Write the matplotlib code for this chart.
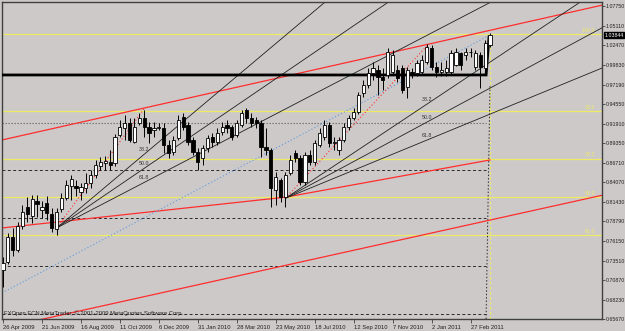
import matplotlib
matplotlib.use("Agg")
import matplotlib.pyplot as plt
import pandas as pd

plt.rcParams["font.family"] = ["Liberation Sans", "DejaVu Sans"]

# AUDUSD weekly candles, 26 Apr 2009 .. 27 Mar 2011
opens = [0.7226, 0.7334, 0.7670, 0.7496, 0.7817, 0.8073, 0.7952, 0.8154, 0.8033, 0.8127,
         0.7979, 0.7777, 0.8046, 0.8194, 0.8356, 0.8356, 0.8275, 0.8329, 0.8396, 0.8503,
         0.8624, 0.8665, 0.8678, 0.8665, 0.9041, 0.9135, 0.9202, 0.8947, 0.9202, 0.9270,
         0.9149, 0.9108, 0.9135, 0.9135, 0.8907, 0.8813, 0.9001, 0.9283, 0.9175, 0.8974,
         0.8813, 0.8732, 0.8866, 0.9014, 0.8947, 0.9081, 0.9175, 0.9149, 0.9041, 0.9175,
         0.9377, 0.9270, 0.9243, 0.9202, 0.8880, 0.8839, 0.8302, 0.8436, 0.8208, 0.8530,
         0.8799, 0.8732, 0.8409, 0.8772, 0.8678, 0.8907, 0.9014, 0.9175, 0.8934, 0.8839,
         0.8974, 0.9149, 0.9270, 0.9350, 0.9606, 0.9713, 0.9875, 0.9915, 0.9821, 0.9848,
         0.9888, 0.9915, 0.9942, 0.9686, 0.9888, 0.9875, 0.9888, 1.0022, 1.0211, 0.9955,
         0.9888, 0.9888, 0.9888, 0.9982, 1.0143, 1.0117, 1.0157, 0.9955, 1.0117, 0.9942,
         1.0251]
highs = [0.7401, 0.7724, 0.7791, 0.7871, 0.8100, 0.8207, 0.8234, 0.8234, 0.8154, 0.8221,
         0.8060, 0.8060, 0.8261, 0.8436, 0.8503, 0.8436, 0.8396, 0.8530, 0.8571, 0.8705,
         0.8745, 0.8759, 0.8839, 0.9054, 0.9243, 0.9310, 0.9270, 0.9270, 0.9337, 0.9377,
         0.9216, 0.9216, 0.9202, 0.9202, 0.8974, 0.9028, 0.9310, 0.9337, 0.9216, 0.9014,
         0.8866, 0.8907, 0.9041, 0.9068, 0.9135, 0.9216, 0.9243, 0.9175, 0.9243, 0.9377,
         0.9404, 0.9337, 0.9283, 0.9243, 0.9135, 0.8866, 0.8544, 0.8463, 0.8544, 0.8772,
         0.8839, 0.8772, 0.8813, 0.8839, 0.8974, 0.9135, 0.9243, 0.9216, 0.9014, 0.9014,
         0.9202, 0.9310, 0.9404, 0.9619, 0.9781, 0.9942, 1.0022, 0.9982, 0.9942, 1.0211,
         1.0184, 0.9982, 0.9982, 0.9955, 0.9942, 1.0049, 1.0117, 1.0264, 1.0251, 1.0022,
         1.0022, 1.0049, 1.0184, 1.0211, 1.0157, 1.0211, 1.0211, 1.0184, 1.0157, 1.0318,
         1.0412]
lows = [0.6998, 0.7307, 0.7414, 0.7469, 0.7777, 0.7871, 0.7858, 0.7939, 0.7925, 0.7898,
        0.7737, 0.7697, 0.8006, 0.8167, 0.8167, 0.8221, 0.8167, 0.8261, 0.8329, 0.8463,
        0.8571, 0.8571, 0.8571, 0.8624, 0.9014, 0.8974, 0.8947, 0.8934, 0.9175, 0.9014,
        0.8934, 0.9014, 0.9108, 0.8799, 0.8732, 0.8772, 0.8974, 0.9108, 0.8907, 0.8772,
        0.8571, 0.8638, 0.8813, 0.8880, 0.8907, 0.9041, 0.9068, 0.8974, 0.9014, 0.9149,
        0.9202, 0.9149, 0.9135, 0.8745, 0.8772, 0.8073, 0.8100, 0.8140, 0.8073, 0.8503,
        0.8678, 0.8369, 0.8369, 0.8638, 0.8638, 0.8880, 0.8974, 0.8880, 0.8839, 0.8772,
        0.8947, 0.9108, 0.9243, 0.9323, 0.9552, 0.9673, 0.9781, 0.9579, 0.9646, 0.9807,
        0.9848, 0.9754, 0.9606, 0.9538, 0.9807, 0.9834, 0.9861, 0.9996, 0.9915, 0.9821,
        0.9834, 0.9834, 0.9861, 0.9969, 0.9915, 1.0049, 1.0090, 0.9915, 0.9673, 0.9915,
        1.0224]
closes = [0.7320, 0.7670, 0.7496, 0.7817, 0.8006, 0.7979, 0.8181, 0.8113, 0.8073, 0.7992,
          0.7791, 0.8006, 0.8194, 0.8369, 0.8449, 0.8329, 0.8342, 0.8396, 0.8503, 0.8638,
          0.8678, 0.8692, 0.8638, 0.9014, 0.9149, 0.9202, 0.8974, 0.9149, 0.9270, 0.9149,
          0.9068, 0.9135, 0.9149, 0.8907, 0.8799, 0.8974, 0.9243, 0.9149, 0.8947, 0.8813,
          0.8678, 0.8866, 0.9001, 0.8947, 0.9068, 0.9149, 0.9135, 0.9014, 0.9202, 0.9337,
          0.9270, 0.9202, 0.9202, 0.8880, 0.8839, 0.8329, 0.8476, 0.8208, 0.8503, 0.8705,
          0.8732, 0.8409, 0.8772, 0.8678, 0.8934, 0.9068, 0.9175, 0.8934, 0.8947, 0.8974,
          0.9149, 0.9270, 0.9350, 0.9579, 0.9713, 0.9875, 0.9942, 0.9821, 0.9781, 1.0157,
          1.0117, 0.9807, 0.9646, 0.9915, 0.9848, 1.0009, 1.0049, 1.0224, 0.9955, 0.9888,
          0.9915, 0.9942, 1.0143, 1.0157, 0.9982, 1.0157, 1.0160, 1.0143, 0.9955, 1.0278,
          1.0384]

start_date = "2009-04-26"
label_every = 8

y_ticks = [1.0775, 1.0511, 1.0247, 0.9983, 0.9719, 0.9455, 0.9191, 0.8935, 0.8671,
           0.8407, 0.8143, 0.7879, 0.7615, 0.7351, 0.7087, 0.6823, 0.6567]
last_price = 1.03844

# yellow fibo retracement
fib_high = 1.0399
fib_low = 0.6016
fib_levels = [0.0, 23.6, 38.2, 50.0, 61.8]
fib_texts = ["100.0", "23.6", "38.2", "50.0", "61.8"]
fib_bar = 100

# fibo fans: (bar, price) of low and high anchors
fan1 = [(11, 0.7790), (29, 0.9395)]
fan2 = [(58, 0.8190), (87, 1.0235)]
fan_levels = [38.2, 50.0, 61.8]

# trend lines as (bar, price) points
red_top = [(0, 0.8977), (100, 1.0448)]
red_low = [(20, 0.6737), (100, 0.7897)]
red_mid = [(-0.2, 0.7791), (58, 0.8205), (100, 0.8705)]
blue_dots = [(-0.2, 0.6917), (100, 1.0385)]
support = [(-0.2, 0.9848), (99.2, 0.9848), (99.8, 1.0358)]
grid_levels = [0.9206, 0.8564, 0.7921, 0.7279, 0.6636]
grid_end = 99.2

XMIN, XMAX = -0.2, 123.0
YMIN, YMAX = 0.6567, 1.0829
BG = "#cdc9c9"
YELLOW = "#eeea66"
RED = "#ff2d2d"
FS = 3.8


def extend(p1, p2, x0, x1):
    k = (p2[1] - p1[1]) / (p2[0] - p1[0])
    return [x0, x1], [p1[1] + k * (x0 - p1[0]), p1[1] + k * (x1 - p1[0])]


fig = plt.figure(figsize=(6.25, 3.31), dpi=100, facecolor=BG)
ax = fig.add_axes([2 / 625, 12 / 331, 600 / 625, 317 / 331], facecolor=BG)

# yellow fibo
for lvl, txt in zip(fib_levels, fib_texts):
    p = fib_high - lvl / 100 * (fib_high - fib_low)
    ax.axhline(p, color=YELLOW, lw=0.9, zorder=1)
    ax.text(121.6, p + 0.0015, txt, color=YELLOW, fontsize=FS, ha="right", va="bottom", zorder=1)
ax.plot([fib_bar, fib_bar], [YMIN, fib_high], color=YELLOW, lw=0.9, ls=(0, (2, 2)), zorder=1)

# dashed level block (top one is drawn dotted, lighter)
for j, p in enumerate(grid_levels):
    if j == 0:
        ax.plot([XMIN, grid_end], [p, p], color="#6a6a6a", lw=0.8, ls=(0, (1.2, 1.5)), zorder=1)
    else:
        ax.plot([XMIN, grid_end], [p, p], color="#2a2a2a", lw=0.7, ls=(0, (3, 2.5)), zorder=1)
ax.plot([grid_end, 100.0], [YMIN, 0.9700], color="#2a2a2a", lw=0.7, ls=(0, (1.5, 2)), zorder=1)

# red trend lines
ax.plot(*extend(red_top[0], red_top[1], XMIN, XMAX), color=RED, lw=0.9, zorder=2)
ax.plot(*extend(red_low[0], red_low[1], XMIN, XMAX), color=RED, lw=0.9, zorder=2)
ax.plot([p[0] for p in red_mid], [p[1] for p in red_mid], color=RED, lw=0.9, zorder=2)

# blue dotted line
ax.plot([p[0] for p in blue_dots], [p[1] for p in blue_dots], color="#5b9be0",
        lw=0.8, ls=(0, (1, 2)), zorder=2)

# fibo fans
for (xa, pa), (xb, pb) in (fan1, fan2):
    ax.plot([xa, xb], [pa, pb], color=RED, lw=0.8, ls=(0, (1, 2)), zorder=2)
    for lvl in fan_levels:
        pk = pb - lvl / 100 * (pb - pa)
        ax.plot(*extend((xa, pa), (xb, pk), xa, XMAX), color="#202020", lw=0.6, zorder=2)
        ax.text(xb, pk + 0.003, f"{lvl:.1f}", color="#303030", fontsize=FS,
                ha="center", va="bottom", zorder=2)

# support line
ax.plot([p[0] for p in support], [p[1] for p in support], color="black", lw=2.0,
        solid_joinstyle="miter", zorder=3)

# candles
n = len(closes)
xs = list(range(n))
ax.vlines(xs, lows, highs, color="black", lw=0.7, zorder=4)
bottoms = [min(o, c) for o, c in zip(opens, closes)]
heights = [max(abs(c - o), 0.0002) for o, c in zip(opens, closes)]
colors = ["white" if c >= o else "black" for o, c in zip(opens, closes)]
ax.bar(xs, heights, bottom=bottoms, width=0.66, color=colors, edgecolor="black",
       lw=0.6, zorder=5)

ax.set_xlim(XMIN, XMAX)
ax.set_ylim(YMIN, YMAX)

# axes look
for s in ax.spines.values():
    s.set_color("#404040")
    s.set_linewidth(1.0)
ax.yaxis.tick_right()
ax.set_yticks(y_ticks)
ax.set_yticklabels([f"{v:.5f}" for v in y_ticks])
ax.tick_params(axis="y", length=2, width=0.6, color="#404040", pad=0.8,
               labelsize=FS, labelcolor="#202020")

dates = pd.date_range(start_date, periods=n, freq="7D")
tick_idx = list(range(0, n, label_every))
ax.set_xticks(tick_idx)
ax.set_xticklabels([dates[i].strftime("%-d %b %Y") for i in tick_idx], ha="left")
ax.tick_params(axis="x", length=3, width=0.6, color="#404040", pad=1.5,
               labelsize=4.2, labelcolor="#202020")

ax.annotate(f"{last_price:.5f}", xy=(1.0, last_price), xycoords=("axes fraction", "data"),
            xytext=(1.6, 0), textcoords="offset points", fontsize=FS, color="white",
            va="center", ha="left", annotation_clip=False,
            bbox=dict(boxstyle="square,pad=0.08", fc="black", ec="black"))

ax.text(0.004, 0.01, "FXOpen ECN MetaTrader, \u00a9 2001-2009 MetaQuotes Software Corp.",
        transform=ax.transAxes, fontsize=4.2, color="#202020", ha="left", va="bottom")

fig.savefig("out.png", dpi=100, facecolor=BG)
